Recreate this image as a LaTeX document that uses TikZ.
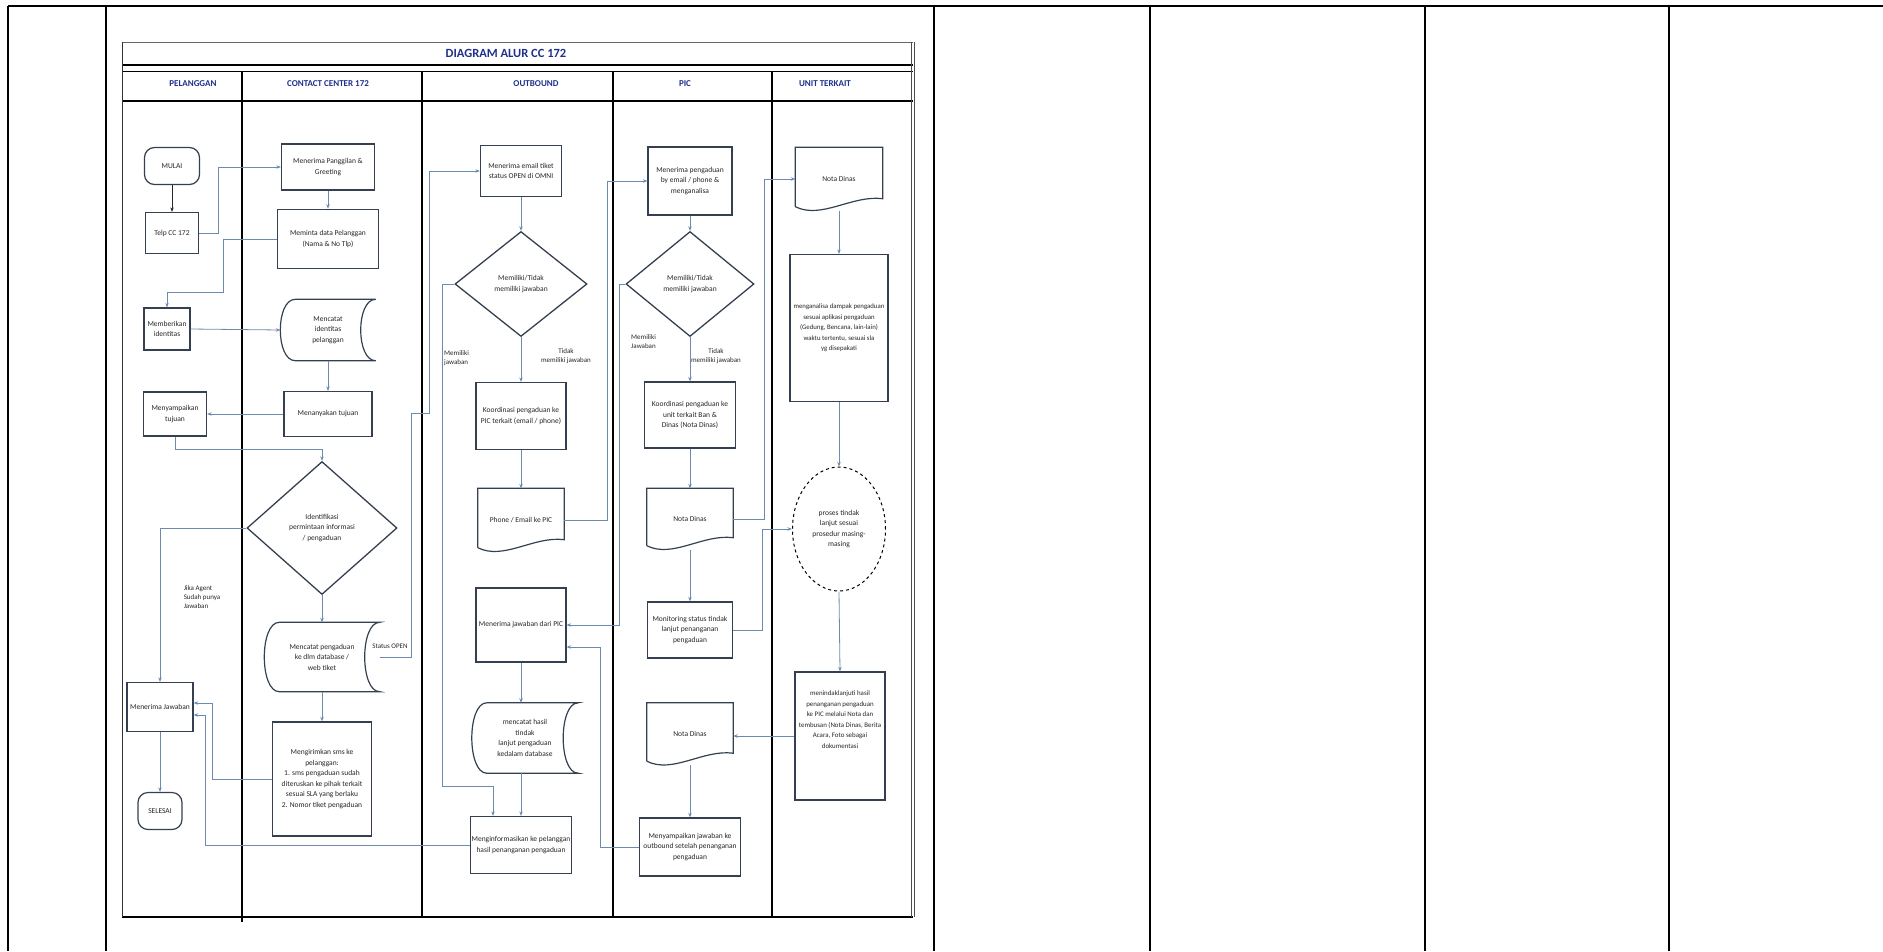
\documentclass[tikz,border=0pt]{standalone}
\usepackage{fontspec}
\setmainfont{Carlito}
\usetikzlibrary{shapes.geometric,arrows.meta,calc}
\definecolor{nodeline}{HTML}{34404F}
\definecolor{connc}{HTML}{6D8AB0}
\definecolor{hdr}{HTML}{1F2F8A}
\definecolor{textc}{HTML}{262626}
\tikzset{
  box/.style={draw=nodeline, line width=1.2pt, fill=white, align=center, text=textc,
    font=\fontsize{7.5}{10.5}\selectfont, inner sep=1pt},
  term/.style={box, rounded corners=10pt},
  sto/.style={align=center, text=textc, font=\fontsize{7.5}{10.5}\selectfont, inner sep=1pt},
  docn/.style={align=center, text=textc, font=\fontsize{7.5}{10.5}\selectfont, inner sep=1pt},
  diam/.style={draw=nodeline, line width=1.3pt, shape=diamond, align=center, text=textc,
    font=\fontsize{7.5}{10.5}\selectfont, inner sep=0pt},
  shapeline/.style={draw=nodeline, line width=1.2pt},
  conn/.style={draw=connc, line width=0.8pt, -{Stealth[length=4.5pt,width=3.5pt]}},
  connk/.style={draw=black!85, line width=0.8pt, -{Stealth[length=4.5pt,width=3.5pt]}},
  lbl/.style={font=\fontsize{7}{9}\selectfont, align=left, text=textc, inner sep=0pt},
  hd/.style={font=\bfseries\fontsize{9}{11}\selectfont, text=hdr},
  tbl/.style={draw=black, line width=1.6pt},
}
\newcommand{\storedshape}[1]{%
  \draw[shapeline] ($(#1.north west)+(15,0)$) -- (#1.north east)
    .. controls ($(#1.north east)+(-20,0)$) and ($(#1.south east)+(-20,0)$) .. (#1.south east)
    -- ($(#1.south west)+(15,0)$)
    .. controls ($(#1.south west)+(-5,0)$) and ($(#1.north west)+(-5,0)$) .. cycle;}
\newcommand{\docshape}[1]{%
  \draw[shapeline] ($(#1.south west)+(0,-4)$) -- (#1.north west) -- (#1.north east) -- ($(#1.south east)+(0,-12)$)
    .. controls ($(#1.south east)!0.35!(#1.south west)+(0,-16)$) and ($(#1.south east)!0.7!(#1.south west)+(0,9)$) .. ($(#1.south west)+(0,-4)$);}
\begin{document}
\begin{tikzpicture}[x=1pt,y=-1pt]
\useasboundingbox (0,0) rectangle (1883,951);
% outer table
\draw[tbl] (8,6) -- (1883,6);
\foreach \xx in {8,106,934,1150,1425,1669} { \draw[tbl] (\xx,6) -- (\xx,951); }
% diagram frame
\draw[black!60, line width=0.8pt] (122,42) -- (913,42);
\draw[black, line width=2pt] (122,65) -- (913,65);
\draw[black, line width=1pt] (122,71) -- (913,71);
\draw[black, line width=2pt] (122,101) -- (913,101);
\draw[black, line width=2pt] (122,917) -- (913,917);
\draw[black!80, line width=1pt] (122,42) -- (122,917);
\draw[black!70, line width=0.8pt] (911,42) -- (911,917);
\draw[black!70, line width=0.8pt] (914,42) -- (914,917);
\draw[black, line width=1.8pt] (242,71) -- (242,922);
\foreach \xx in {422,613,772} { \draw[black, line width=1.3pt] (\xx,71) -- (\xx,917); }
\node[font=\bfseries\fontsize{12.5}{14}\selectfont, text=hdr] (title) at (506,53) {DIAGRAM ALUR CC 172};
\node[hd] (h1) at (193,84) {PELANGGAN};
\node[hd] (h2) at (328,84) {CONTACT CENTER 172};
\node[hd] (h3) at (536,84) {OUTBOUND};
\node[hd] (h4) at (685,84) {PIC};
\node[hd] (h5) at (825,84) {UNIT TERKAIT};

% PELANGGAN
\node[term, minimum width=55pt, minimum height=37pt] (mulai) at (172,166) {MULAI};
\node[box, minimum width=53pt, minimum height=41pt] (telp) at (172,233) {Telp CC 172};
\node[box, minimum width=46pt, minimum height=42pt] (identitas) at (167,329) {Memberikan\\identitas};
\node[box, minimum width=63pt, minimum height=44pt] (menyampaikan) at (175,414) {Menyampaikan\\tujuan};
\node[box, minimum width=66pt, minimum height=49pt] (terimajwb) at (160,707) {Menerima Jawaban};
\node[term, minimum width=44pt, minimum height=37pt] (selesai) at (160,811) {SELESAI};

% CONTACT CENTER
\node[box, minimum width=93pt, minimum height=46pt] (panggilan) at (328,167) {Menerima Panggilan \&\\Greeting};
\node[box, line width=1.6pt, minimum width=101pt, minimum height=59pt] (meminta) at (328,239) {Meminta data Pelanggan\\(Nama \& No Tlp)};
\node[sto, minimum width=95pt, minimum height=61pt] (catatid) at (328,330) {Mencatat\\identitas\\pelanggan};
\storedshape{catatid}
\node[box, minimum width=88pt, minimum height=45pt] (tanya) at (328,414) {Menanyakan tujuan};
\node[diam, minimum width=150pt, minimum height=133pt] (identifikasi) at (322,528) {Identifikasi\\permintaan informasi\\/ pengaduan};
\node[sto, minimum width=115pt, minimum height=69pt] (catatpgd) at (322,657) {Mencatat pengaduan\\ke dlm database /\\web tiket};
\storedshape{catatpgd}
\node[lbl] (stopen) at (390,646) {Status OPEN};
\node[box, line width=1.4pt, minimum width=99pt, minimum height=114pt] (sms) at (322,779) {Mengirimkan sms ke\\pelanggan:\\1. sms pengaduan sudah\\diteruskan ke pihak terkait\\sesuai SLA yang berlaku\\2. Nomor tiket pengaduan};

% OUTBOUND
\node[box, minimum width=81pt, minimum height=51pt] (email) at (521,171) {Menerima email tiket\\status OPEN di OMNI};
\node[diam, minimum width=132pt, minimum height=105pt] (dOut) at (521,284) {Memiliki/Tidak\\memiliki jawaban};
\node[box, minimum width=90pt, minimum height=67pt] (koordPIC) at (521,416) {Koordinasi pengaduan ke\\PIC terkait (email / phone)};
\node[docn, minimum width=86pt, minimum height=63pt] (phone) at (521,520) {Phone / Email ke PIC};
\docshape{phone}
\node[box, minimum width=90pt, minimum height=74pt] (terimaPIC) at (521,625) {Menerima jawaban dari PIC};
\node[sto, minimum width=106pt, minimum height=70pt] (catatHasil) at (525,738) {mencatat hasil\\tindak\\lanjut pengaduan\\kedalam database};
\storedshape{catatHasil}
\node[box, minimum width=101pt, minimum height=57pt] (informasi) at (521,845) {Menginformasikan ke pelanggan\\hasil penanganan pengaduan};
\node[lbl, anchor=west] (l1) at (444,358) {Memiliki\\jawaban};
\node[lbl, align=center] (l2) at (566,356) {Tidak\\memiliki jawaban};

% PIC
\node[box, minimum width=84pt, minimum height=68pt] (terimaPgd) at (690,181) {Menerima pengaduan\\by email / phone \&\\menganalisa};
\node[diam, minimum width=128pt, minimum height=105pt] (dPIC) at (690,284) {Memiliki/Tidak\\memiliki jawaban};
\node[box, minimum width=91pt, minimum height=66pt] (koordUnit) at (690,415) {Koordinasi pengaduan ke\\unit terkait Ban \&\\Dinas (Nota Dinas)};
\node[docn, minimum width=86pt, minimum height=61pt] (nd1) at (690,519) {Nota Dinas};
\docshape{nd1}
\node[box, minimum width=85pt, minimum height=56pt] (monitor) at (690,630) {Monitoring status tindak\\lanjut penanganan\\pengaduan};
\node[docn, minimum width=86pt, minimum height=62pt] (nd2) at (690,734) {Nota Dinas};
\docshape{nd2}
\node[box, minimum width=101pt, minimum height=58pt] (sampaikan) at (690,847) {Menyampaikan jawaban ke\\outbound setelah penanganan\\pengaduan};
\node[lbl, anchor=west] (l3) at (631,342) {Memiliki\\Jawaban};
\node[lbl, align=center] (l4) at (716,356) {Tidak\\memiliki jawaban};

% UNIT TERKAIT
\node[docn, minimum width=87pt, minimum height=63pt] (ndU) at (839,179) {Nota Dinas};
\docshape{ndU}
\node[box, font=\fontsize{6.8}{10.5}\selectfont, minimum width=98pt, minimum height=147pt] (analisa) at (839,328) {menganalisa dampak pengaduan\\sesuai aplikasi pengaduan\\(Gedung, Bencana, lain-lain)\\waktu tertentu, sesuai sla\\yg disepakati};
\node[draw=black, dashed, line width=1pt, shape=ellipse, minimum width=93pt, minimum height=124pt, inner sep=0pt, align=center, text=textc, font=\fontsize{7.5}{10.5}\selectfont] (proses) at (839,529) {proses tindak\\lanjut sesuai\\prosedur masing-\\masing};
\node[box, font=\fontsize{6.9}{10.5}\selectfont, minimum width=90pt, minimum height=128pt] (tindak) at (840,736) {menindaklanjuti hasil\\penanganan pengaduan\\ke PIC melalui Nota dan\\tembusan (Nota Dinas, Berita\\Acara, Foto sebagai\\dokumentasi\\[22pt]};

% connectors PELANGGAN / CC
\draw[connk] (mulai) -- (telp);
\draw[conn] (telp.east) -- ++(19,0) |- (panggilan.west);
\draw[conn] (panggilan) -- (meminta);
\draw[conn] (meminta.west) -- ++(-53,0) -- ++(0,53) -| (identitas.north);
\draw[conn] (identitas.east) -- (catatid.west);
\draw[conn] (catatid.south) -- (tanya.north);
\draw[conn] (tanya.west) -- (menyampaikan.east);
\draw[conn] (menyampaikan.south) -- ++(0,13) -| (identifikasi.north);
\draw[conn] (identifikasi.west) -| (terimajwb.north);
\draw[conn] (identifikasi.south) -- (catatpgd.north);
\draw[conn] (catatpgd.east) -- ++(32,0) -- ++(0,-244) -- ++(18,0) |- (email.west);
\draw[conn] (catatpgd.south) -- (sms.north);
\draw[conn] (sms.west) -| ([xshift=19pt,yshift=4pt]terimajwb.east) -- ([yshift=4pt]terimajwb.east);
\draw[conn] (terimajwb) -- (selesai);
\draw[conn] (informasi.west) -| ([xshift=12pt,yshift=-8pt]terimajwb.east) -- ([yshift=-8pt]terimajwb.east);
\node[lbl] (l0) at (202,597) {Jika Agent\\Sudah punya\\Jawaban};

% OUTBOUND
\draw[conn] (email) -- (dOut);
\draw[conn] (dOut.west) -- ++(-12,0) -- ++(0,502) -| ([xshift=-28pt]informasi.north);
\draw[conn] (dOut.south) -- (koordPIC.north);
\draw[conn] (koordPIC) -- (phone);
\draw[conn] (phone.east) -- ++(43,0) |- (terimaPgd.west);
\draw[conn] (terimaPIC.south) -- (terimaPIC.south |- catatHasil.north);
\draw[conn] (informasi.north |- catatHasil.south) -- (informasi.north);
\draw[conn] (sampaikan.west) -- ++(-39,0) |- ([yshift=-22pt]terimaPIC.east);
\draw[conn] (dPIC.west) -- ++(-6,0) |- (terimaPIC.east);

% PIC
\draw[conn] (terimaPgd.south) -- (dPIC.north);
\draw[conn] (dPIC.south) -- (koordUnit.north);
\draw[conn] (koordUnit) -- (nd1);
\draw[conn] (nd1.east) -- ++(31,0) |- (ndU.west);
\draw[conn] (nd1.south) -- (monitor.north);
\draw[conn] (monitor.east) -- ++(29,0) |- (proses.west);
\draw[conn] (nd2.south) -- (sampaikan.north);
\draw[conn] (tindak.west) -- (nd2.east |- tindak.west);

% UNIT
\draw[conn] (ndU.south) -- (analisa.north);
\draw[conn] (analisa.south) -- (proses.north);
\draw[conn] (proses.south) -- (tindak.north);
\end{tikzpicture}
\end{document}
